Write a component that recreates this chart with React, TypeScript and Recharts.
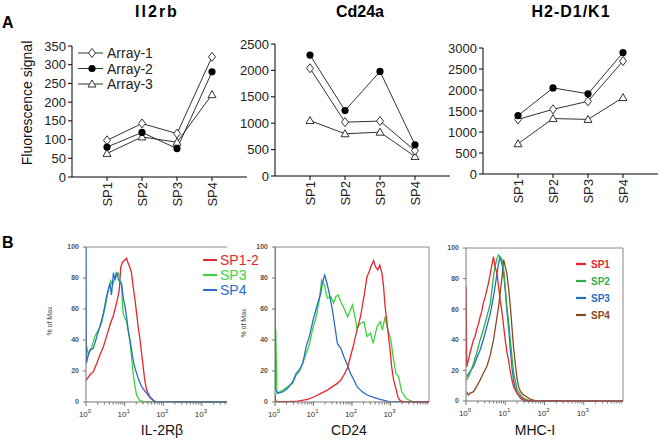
import React from "react";
import { LineChart, Line, XAxis, YAxis, ReferenceLine } from "recharts";

const FONT = "'Liberation Sans', Arial, Helvetica, sans-serif";

// ---- panel A: microarray signal per sample ----
const SAMPLES = ["SP1", "SP2", "SP3", "SP4"];
const SAMPLE_POS = [1, 2, 3, 4];

const IL2RB_ARRAY1 = [98, 143, 116, 321];
const IL2RB_ARRAY2 = [80, 119, 76, 281];
const IL2RB_ARRAY3 = [63, 107, 93, 220];
const IL2RB_TICKS = [0, 50, 100, 150, 200, 250, 300, 350];

const CD24A_ARRAY1 = [2040, 1020, 1040, 480];
const CD24A_ARRAY2 = [2290, 1240, 1980, 590];
const CD24A_ARRAY3 = [1050, 800, 830, 370];
const CD24A_TICKS = [0, 500, 1000, 1500, 2000, 2500];

const H2_ARRAY1 = [1300, 1540, 1730, 2690];
const H2_ARRAY2 = [1390, 2050, 1910, 2890];
const H2_ARRAY3 = [720, 1320, 1300, 1820];
const H2_TICKS = [0, 500, 1000, 1500, 2000, 2500, 3000];

// ---- panel B: flow histograms, [log10 intensity, % of max] ----
type Pt = [number, number];
const PCT_TICKS = [0, 20, 40, 60, 80, 100];
const DECADES = [0, 1, 2, 3];
const MINOR_STEPS = [2, 3, 4, 5, 6, 7, 8, 9];

const IL2RB_SP12: Pt[] = [[0,14],[0.1,17.4],[0.19,19.6],[0.28,25],[0.36,30.3],[0.45,35.7],[0.53,42.2],[0.62,49.7],[0.71,56],[0.79,63.7],[0.86,72],[0.9,87],[0.95,90.5],[1.01,91.6],[1.05,92.7],[1.09,89.7],[1.14,86.5],[1.18,83],[1.22,74.4],[1.27,65.8],[1.31,57.2],[1.35,48.6],[1.4,40],[1.44,31.4],[1.48,22.8],[1.52,14.2],[1.57,7.7],[1.65,3.4],[1.74,1.3],[1.81,0.2],[3.65,0]];
const IL2RB_SP3: Pt[] = [[0,36],[0.02,35.7],[0.06,30.3],[0.15,35.7],[0.23,42.2],[0.32,46.5],[0.4,50.8],[0.49,60.4],[0.58,72.3],[0.64,78.3],[0.69,75.5],[0.73,78.7],[0.79,81.3],[0.84,83],[0.88,79],[0.92,74.4],[0.96,57.2],[1.01,54],[1.05,51.8],[1.09,46.5],[1.14,37.8],[1.18,29.2],[1.22,18.5],[1.27,9.9],[1.31,4.5],[1.38,1.3],[1.48,0.2],[3.65,0]];
const IL2RB_SP4: Pt[] = [[0,100],[0.01,25],[0.06,30.3],[0.1,33.5],[0.19,34.6],[0.28,42.2],[0.36,48.6],[0.45,57.2],[0.53,67.9],[0.62,76.6],[0.66,69],[0.71,83.4],[0.75,78.7],[0.79,83.9],[0.84,79],[0.88,77.6],[0.92,76.6],[0.96,67.9],[1.01,61.5],[1.05,55],[1.09,46.5],[1.14,40],[1.18,33.5],[1.22,27.1],[1.27,21.7],[1.35,15.3],[1.44,9.9],[1.57,5.6],[1.67,2.4],[1.78,0.2],[3.65,0]];

const CD24_SP12: Pt[] = [[0,5],[0.02,0.5],[0.08,0.2],[0.33,0.2],[0.59,0.6],[0.85,1.7],[1.02,3.4],[1.19,5.6],[1.36,7.7],[1.49,9.9],[1.62,12],[1.71,14.2],[1.79,17.4],[1.88,21.7],[1.96,29.2],[2.05,37.8],[2.13,46.5],[2.22,55],[2.31,67.9],[2.35,74.4],[2.39,80.9],[2.43,83],[2.49,87.3],[2.56,91.2],[2.61,87.3],[2.67,85.2],[2.72,88.4],[2.78,83],[2.82,74.4],[2.86,61.5],[2.91,50.8],[2.95,42.2],[2.99,33.5],[3.03,22.8],[3.08,14.2],[3.14,8.8],[3.19,3.4],[3.25,0.9],[3.32,0.2],[4,0]];
const CD24_SP3: Pt[] = [[0.02,46.5],[0.05,5.6],[0.21,7.7],[0.33,9.9],[0.46,12],[0.55,17.4],[0.63,19.6],[0.72,24.9],[0.81,31.4],[0.89,36.8],[0.98,47.5],[1.06,54],[1.15,65.8],[1.21,78.7],[1.28,75.5],[1.36,67],[1.45,68],[1.52,63.7],[1.58,68],[1.64,69],[1.71,64.7],[1.81,59.4],[1.89,55],[2.01,62.6],[2.07,56],[2.13,47.5],[2.22,50.8],[2.31,51.8],[2.39,42.2],[2.48,44.3],[2.55,37.8],[2.65,48.6],[2.73,51.8],[2.79,46.5],[2.86,55],[2.92,47.5],[3.01,40],[3.08,27.1],[3.14,18.5],[3.21,16.4],[3.29,6.7],[3.4,2.4],[3.51,0.9],[3.59,0.2],[4,0]];
const CD24_SP4: Pt[] = [[0,100],[0.01,8],[0.08,5.6],[0.21,6.7],[0.33,8.8],[0.46,13.1],[0.55,18.5],[0.63,20.6],[0.72,24.9],[0.81,35.7],[0.89,42.2],[0.98,51.8],[1.06,59.4],[1.11,63.7],[1.19,70.1],[1.23,76.6],[1.29,81.9],[1.35,76.6],[1.41,70.1],[1.49,59.4],[1.53,52.9],[1.62,37.8],[1.71,34.6],[1.79,29.2],[1.88,23.9],[1.96,18.5],[2.05,14.2],[2.13,9.9],[2.26,6.7],[2.39,4.5],[2.56,3],[2.73,1.7],[2.86,0.9],[2.95,0.2],[4,0]];

const MHC_SP1: Pt[] = [[0,75],[0.02,22.4],[0.06,26.8],[0.1,31.2],[0.19,39.9],[0.23,42],[0.27,46.4],[0.32,50.7],[0.36,55],[0.4,58.4],[0.44,63.8],[0.49,68.2],[0.53,72.5],[0.57,76.9],[0.62,83.4],[0.66,88.9],[0.7,94.3],[0.74,87.8],[0.79,83.4],[0.83,74.7],[0.87,66],[0.92,57.3],[0.96,48.6],[1,39.9],[1.04,32.3],[1.09,25.7],[1.13,19.2],[1.17,13.8],[1.21,9.4],[1.3,5.1],[1.39,2.4],[1.47,0.7],[1.6,0],[4,0]];
const MHC_SP2: Pt[] = [[0.02,13.7],[0.1,18.1],[0.19,24.6],[0.27,31.2],[0.36,39.9],[0.44,46.4],[0.53,55],[0.62,63.8],[0.66,72.5],[0.7,81.2],[0.74,87.8],[0.79,93.2],[0.83,95.4],[0.87,94.3],[0.92,92.2],[0.96,85.6],[1,74.7],[1.04,61.7],[1.09,50.8],[1.13,39.9],[1.17,29],[1.21,19.2],[1.26,12.7],[1.3,7.6],[1.39,3.9],[1.47,1.7],[1.6,0.2],[1.81,0],[4,0]];
const MHC_SP3: Pt[] = [[0.02,15.9],[0.1,19.2],[0.19,22.4],[0.27,27.9],[0.36,33.3],[0.44,39.9],[0.53,48.6],[0.62,57.3],[0.7,68.2],[0.74,74.7],[0.79,83.4],[0.83,89.9],[0.87,94.3],[0.92,88.9],[0.96,83.4],[1,72.5],[1.04,59.5],[1.09,46.4],[1.13,33.3],[1.17,22.4],[1.21,13.7],[1.26,8.3],[1.3,5],[1.39,1.7],[1.47,0.2],[1.56,0],[4,0]];
const MHC_SP4: Pt[] = [[0.02,6.1],[0.06,3.9],[0.1,5],[0.19,6.1],[0.27,9.4],[0.36,13.7],[0.44,18.1],[0.53,22.4],[0.62,30.1],[0.7,39.9],[0.74,46.4],[0.79,55],[0.83,61.7],[0.87,70.4],[0.92,81.2],[0.96,92.2],[1,87.8],[1.04,83.4],[1.09,72.5],[1.13,61.7],[1.17,48.6],[1.21,35.6],[1.26,23.5],[1.3,14.8],[1.34,9.4],[1.39,6.1],[1.47,3.9],[1.56,2.4],[1.64,1.1],[1.77,0.2],[1.9,0],[4,0]];

const RED = "#e8262d";
const GREEN = "#3ad43a";
const BLUE = "#2a6bcc";
const GREEN2 = "#2fae4a";
const BLUE2 = "#1e70c0";
const BROWN = "#8a4a1e";

const ARRAY_SERIES = [
  { key: "a3", name: "Array-3", kind: "triangle" },
  { key: "a1", name: "Array-1", kind: "diamond" },
  { key: "a2", name: "Array-2", kind: "circle" },
];
const LEGEND_ORDER = ["a1", "a2", "a3"];

function Marker({ kind, cx, cy }: { kind: string; cx: number; cy: number }) {
  if (kind === "diamond")
    return <polygon points={`${cx},${cy - 4.5} ${cx + 3.5},${cy} ${cx},${cy + 4.5} ${cx - 3.5},${cy}`} fill="#fff" stroke="#333" strokeWidth={1} />;
  if (kind === "circle") return <circle cx={cx} cy={cy} r={3.6} fill="#000" />;
  return <polygon points={`${cx},${cy - 4} ${cx + 4},${cy + 3} ${cx - 4},${cy + 3}`} fill="#fff" stroke="#333" strokeWidth={1} />;
}

function SampleTick({ x, y, payload }: any) {
  return (
    <text transform={`translate(${x + 4.5},${y}) rotate(-90)`} textAnchor="end" fontSize={13} fill="#222" fontFamily={FONT}>
      {SAMPLES[payload.value - 1]}
    </text>
  );
}

type Box = { x0: number; x1: number; y0: number; y1: number };

function ArrayChart({ box, a1, a2, a3, ticks }: { box: Box; a1: number[]; a2: number[]; a3: number[]; ticks: number[] }) {
  const yw = 45, xh = 32, mt = 10, mr = 4;
  const rows = SAMPLES.map((s, i) => ({ pos: SAMPLE_POS[i], a1: a1[i], a2: a2[i], a3: a3[i] }));
  return (
    <div style={{ position: "absolute", left: box.x0 - yw, top: box.y0 - mt }}>
      <LineChart width={box.x1 - box.x0 + yw + mr} height={box.y1 - box.y0 + mt + xh} data={rows} margin={{ top: mt, right: mr, left: 0, bottom: 0 }}>
        <XAxis type="number" dataKey="pos" domain={[0, 5]} ticks={SAMPLE_POS} interval={0} height={xh}
          tickSize={4} tickMargin={1} tick={<SampleTick />} axisLine={{ stroke: "#000" }} tickLine={{ stroke: "#000" }} />
        <YAxis type="number" domain={[0, ticks[ticks.length - 1]]} ticks={ticks} interval={0} width={yw}
          tickSize={4} tickMargin={2} tick={{ fontSize: 13, fill: "#222", fontFamily: FONT }}
          axisLine={{ stroke: "#000" }} tickLine={{ stroke: "#000" }} />
        {ARRAY_SERIES.map((s) => (
          <Line key={s.key} dataKey={s.key} type="linear" stroke="#333" strokeWidth={1} isAnimationActive={false}
            dot={(p: any) => <Marker key={`${s.key}-${p.index}`} kind={s.kind} cx={p.cx} cy={p.cy} />} />
        ))}
      </LineChart>
    </div>
  );
}

function LogTick({ x, y, payload }: any) {
  const v = payload.value;
  const major = DECADES.includes(v);
  return (
    <g>
      <line x1={x} x2={x} y1={y} y2={y + (major ? 4 : 2.5)} stroke="#777" />
      {major && (
        <text x={x - 1} y={y + 15} textAnchor="middle" fontSize={8} fill="#333" fontFamily={FONT}>
          <tspan>10</tspan>
          <tspan dy={-4} fontSize={6}>{v}</tspan>
        </text>
      )}
    </g>
  );
}

type Curve = { name: string; color: string; points: Pt[] };

function Histogram({ box, maxLog, curves, rightBorder, mr }: { box: Box; maxLog: number; curves: Curve[]; rightBorder: boolean; mr: number }) {
  const yw = 30, xh = 26, mt = 6;
  const minor = DECADES.flatMap((d) => MINOR_STEPS.map((k) => d + Math.log10(k)));
  const ticks = [...DECADES, ...minor].filter((t) => t <= maxLog + 1e-9).sort((a, b) => a - b);
  return (
    <div style={{ position: "absolute", left: box.x0 - yw, top: box.y0 - mt }}>
      <LineChart width={box.x1 - box.x0 + yw + mr} height={box.y1 - box.y0 + mt + xh} margin={{ top: mt, right: mr, left: 0, bottom: 0 }}>
        <XAxis type="number" dataKey="x" domain={[0, maxLog]} ticks={ticks} interval={0} height={xh} allowDataOverflow
          tickSize={0} tickMargin={0} tickLine={false} tick={<LogTick />} axisLine={{ stroke: "#777" }} />
        <YAxis type="number" domain={[0, 100]} ticks={PCT_TICKS} interval={0} width={yw}
          tickSize={3} tickMargin={4} tick={{ fontSize: 7, fontWeight: 700, fill: "#555", fontFamily: FONT }}
          axisLine={{ stroke: "#777" }} tickLine={{ stroke: "#777" }} />
        <ReferenceLine y={100} stroke="#888" />
        {rightBorder && <ReferenceLine x={maxLog} stroke="#888" />}
        {curves.map((c) => (
          <Line key={c.name} data={c.points.map(([x, y]) => ({ x, y }))} dataKey="y" type="linear"
            stroke={c.color} strokeWidth={1.3} dot={false} isAnimationActive={false} />
        ))}
      </LineChart>
    </div>
  );
}

export default function App() {
  const txt = { fontFamily: FONT };
  return (
    <div style={{ position: "absolute", left: 0, top: 0, width: 662, height: 445, background: "#fff", fontFamily: FONT }}>
      <ArrayChart box={{ x0: 72, x1: 247, y0: 46, y1: 177 }} a1={IL2RB_ARRAY1} a2={IL2RB_ARRAY2} a3={IL2RB_ARRAY3} ticks={IL2RB_TICKS} />
      <ArrayChart box={{ x0: 275, x1: 450, y0: 44, y1: 176 }} a1={CD24A_ARRAY1} a2={CD24A_ARRAY2} a3={CD24A_ARRAY3} ticks={CD24A_TICKS} />
      <ArrayChart box={{ x0: 483, x1: 658, y0: 48, y1: 174 }} a1={H2_ARRAY1} a2={H2_ARRAY2} a3={H2_ARRAY3} ticks={H2_TICKS} />

      <Histogram box={{ x0: 86, x1: 227, y0: 247, y1: 402 }} maxLog={3.65} rightBorder={false} mr={36}
        curves={[
          { name: "SP1-2", color: RED, points: IL2RB_SP12 },
          { name: "SP3", color: GREEN, points: IL2RB_SP3 },
          { name: "SP4", color: BLUE, points: IL2RB_SP4 },
        ]} />
      <Histogram box={{ x0: 275, x1: 429, y0: 247, y1: 402 }} maxLog={4} rightBorder mr={6}
        curves={[
          { name: "SP3", color: GREEN, points: CD24_SP3 },
          { name: "SP4", color: BLUE, points: CD24_SP4 },
          { name: "SP1-2", color: RED, points: CD24_SP12 },
        ]} />
      <Histogram box={{ x0: 466, x1: 623, y0: 248, y1: 401 }} maxLog={4} rightBorder mr={6}
        curves={[
          { name: "SP4", color: BROWN, points: MHC_SP4 },
          { name: "SP3", color: BLUE2, points: MHC_SP3 },
          { name: "SP2", color: GREEN2, points: MHC_SP2 },
          { name: "SP1", color: RED, points: MHC_SP1 },
        ]} />

      <svg width={662} height={445} style={{ position: "absolute", left: 0, top: 0, pointerEvents: "none" }}>
        <text x={2} y={28} fontSize={16} fontWeight={700} {...txt}>A</text>
        <text x={2} y={248} fontSize={16} fontWeight={700} {...txt}>B</text>
        <text x={157} y={17} fontSize={16} fontWeight={700} textAnchor="middle" letterSpacing={2} {...txt}>Il2rb</text>
        <text x={360} y={17} fontSize={16} fontWeight={700} textAnchor="middle" {...txt}>Cd24a</text>
        <text x={571} y={17} fontSize={16} fontWeight={700} textAnchor="middle" letterSpacing={1} {...txt}>H2-D1/K1</text>
        <text transform="translate(32,103) rotate(-90)" textAnchor="middle" fontSize={14} fill="#111" {...txt}>Fluorescence signal</text>

        {LEGEND_ORDER.map((k, i) => {
          const s = ARRAY_SERIES.find((a) => a.key === k)!;
          const y = 53 + i * 15.5;
          return (
            <g key={k}>
              <line x1={78} x2={103} y1={y} y2={y} stroke="#333" />
              <Marker kind={s.kind} cx={92} cy={y} />
              <text x={107} y={y + 5} fontSize={14} fill="#222" {...txt}>{s.name}</text>
            </g>
          );
        })}

        {[["SP1-2", RED], ["SP3", GREEN], ["SP4", BLUE]].map(([n, c], i) => {
          const y = 260 + i * 15;
          return (
            <g key={n}>
              <line x1={203} x2={217} y1={y} y2={y} stroke={c} strokeWidth={2} />
              <text x={220} y={y + 5} fontSize={14} fill={c} {...txt}>{n}</text>
            </g>
          );
        })}
        {[["SP1", RED], ["SP2", GREEN2], ["SP3", BLUE2], ["SP4", BROWN]].map(([n, c], i) => {
          const y = 264 + i * 17;
          return (
            <g key={n}>
              <line x1={576} x2={586} y1={y} y2={y} stroke={c} strokeWidth={2.2} />
              <text x={591} y={y + 3.5} fontSize={10} fontWeight={700} fill={c} {...txt}>{n}</text>
            </g>
          );
        })}

        <text transform="translate(52,321) rotate(-90)" textAnchor="middle" fontSize={7} fill="#444" {...txt}>% of Max</text>
        <text transform="translate(246,323) rotate(-90)" textAnchor="middle" fontSize={7} fill="#444" {...txt}>% of Max</text>
        <text x={162} y={435} fontSize={14} textAnchor="middle" fill="#111" {...txt}>IL-2Rβ</text>
        <text x={349} y={435} fontSize={14} textAnchor="middle" fill="#111" {...txt}>CD24</text>
        <text x={535} y={435} fontSize={14} textAnchor="middle" fill="#111" {...txt}>MHC-I</text>
      </svg>
    </div>
  );
}
